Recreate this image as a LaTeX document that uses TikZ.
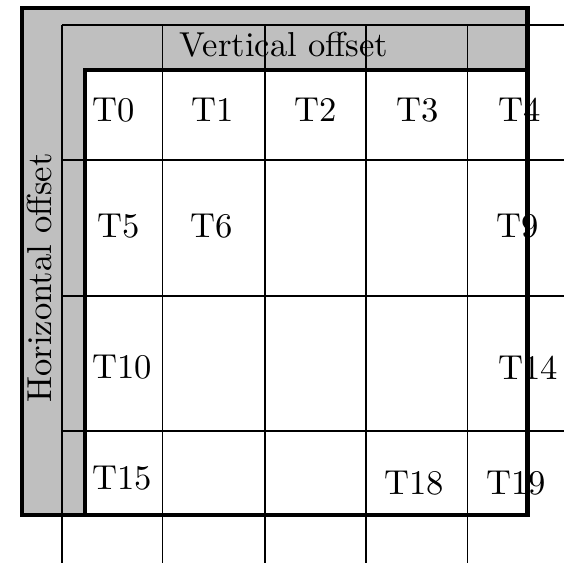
\documentclass[tikz,border=0pt]{standalone}
\begin{document}
\begin{tikzpicture}[x=0.289pt,y=-0.289pt,
  thin grid/.style={line width=0.4pt,black},
  thick frame/.style={line width=1.35pt,black,line join=miter},
  lbl/.style={anchor=base,inner sep=0pt,font=\fontsize{10}{12}\selectfont}]
\useasboundingbox (0,0) rectangle (564,563);
% gray band
\fill[black!25,even odd rule] (22,8) rectangle (527.5,515) (85,70) rectangle (527.5,515);
% texts
\node[lbl] (vo) at (284,56.5) {Vertical offset};
\node[lbl,rotate=90] (ho) at (52,278) {Horizontal offset};
\node[lbl] (t0) at (114,121.5) {T0};
\node[lbl] (t1) at (213,121.5) {T1};
\node[lbl] (t2) at (316,121.5) {T2};
\node[lbl] (t3) at (417.5,121.5) {T3};
\node[lbl] (t4) at (520,121.5) {T4};
\node[lbl] (t5) at (119,238) {T5};
\node[lbl] (t6) at (212,238) {T6};
\node[lbl] (t9) at (518,238) {T9};
\node[lbl] (t10) at (122.5,378.5) {T10};
\node[lbl] (t14) at (528,379.5) {T14};
\node[lbl] (t15) at (122,489.5) {T15};
\node[lbl] (t18) at (414,494.5) {T18};
\node[lbl] (t19) at (516,494.5) {T19};
% grid
\begin{scope}
\clip (0,0) rectangle (564,563);
\foreach \gx in {62,162.3,265,366,467.3}
  \draw[thin grid] (\gx,25) -- (\gx,570);
\foreach \gy in {25,160,296,431}
  \draw[thin grid] (62,\gy) -- (570,\gy);
\end{scope}
% thick frames
\draw[thick frame] (22,8) rectangle (527.5,515);
\draw[thick frame] (85,70) rectangle (527.5,515);
\end{tikzpicture}
\end{document}
